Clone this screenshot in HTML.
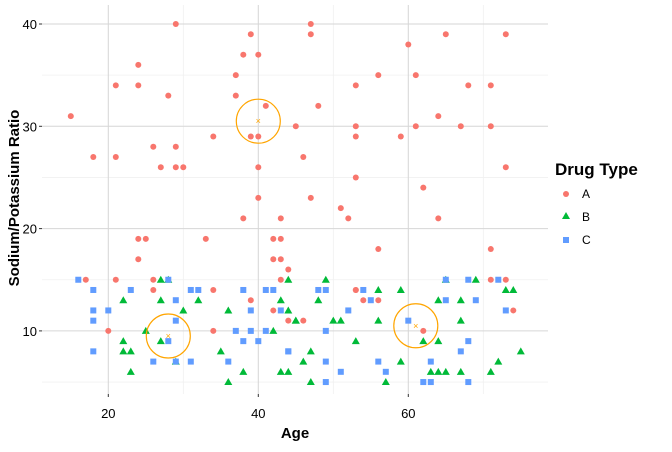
<!DOCTYPE html>
<html><head><meta charset="utf-8"><style>
body{margin:0;background:#fff;font-family:"Liberation Sans",Arial,sans-serif}
svg text{font-family:"Liberation Sans",Arial,sans-serif}
</style></head><body>
<svg id="chart" width="672" height="447" xmlns="http://www.w3.org/2000/svg">
<g id="grid"></g>
<g id="pts"></g>
<g id="cent"></g>
<g id="axes"></g>
<text x="295" y="438" font-size="15" font-weight="bold" text-anchor="middle">Age</text>
<text transform="translate(19,198) rotate(-90)" font-size="15" font-weight="bold" text-anchor="middle">Sodium/Potassium Ratio</text>
<g>
<text x="555" y="175" font-size="17" font-weight="bold">Drug Type</text>
<circle cx="566" cy="194" r="3" fill="#F8766D"/>
<text x="582" y="198" font-size="12">A</text>
<polygon points="566,212 570,219 562,219" fill="#00BA38"/>
<text x="582" y="221" font-size="12">B</text>
<rect x="563" y="237" width="6" height="6" fill="#619CFF"/>
<text x="582" y="244" font-size="12">C</text>
</g>
</svg>
<script>
const agesA=[29,39,38,40,24,37,21,24,28,37,15,41,45,34,39,40,26,29,18,21,27,29,30,40,40,38,43,24,25,33,42,43,
47,47,65,73,60,56,61,53,68,71,48,64,53,61,67,71,53,59,46,73,53,62,47,51,52,64,56,71,
24,42,43,44,17,21,26,43,26,34,39,42,44,20,34,46,53,71,73,53,54,56,74,62];
const ratiosA=[40,39,37,37,36,35,34,34,33,33,31,32,30,29,29,29,28,28,27,27,26,26,26,26,23,21,21,19,19,19,19,19,
40,39,39,39,38,35,35,34,34,34,32,31,30,30,30,30,29,29,27,26,25,24,23,22,21,21,18,18,
17,17,17,16,15,15,15,15,14,14,13,12,11,10,10,11,14,15,15,14,13,13,12,10];
const agesB=[27,28,44,22,27,32,43,30,36,44,45,25,42,22,27,35,22,23,29,23,38,43,44,36,
49,65,69,56,59,73,74,48,64,67,45,50,51,56,67,53,62,64,47,75,46,59,72,63,64,65,67,71,47,57];
const ratiosB=[15,15,15,13,13,13,13,12,12,12,11,10,10,9,9,8,8,8,7,6,6,6,6,5,
15,15,15,14,14,14,14,13,13,13,11,11,11,11,11,9,9,9,8,8,7,7,7,6,6,6,6,6,5,5];
const agesC=[16,28,18,23,31,32,38,41,42,29,18,20,39,43,18,29,37,39,41,28,38,40,18,44,26,31,36,29,
65,68,72,48,49,54,55,65,69,52,73,60,49,68,67,49,56,63,51,57,49,62,63,68,44];
const ratiosC=[15,15,14,14,14,14,14,14,14,13,12,12,12,12,11,11,10,10,10,9,9,9,8,8,7,7,7,7,
15,15,15,14,14,14,13,13,13,12,12,11,10,9,8,7,7,7,6,6,5,5,5,5,8];
const centAges=[28,40,61];
const centRatios=[9.5,30.5,10.5];
const xTicks=[20,40,60];
const yTicks=[10,20,30,40];
const X0=42,X1=548,Y0=5,Y1=394;
const x=a=>108.3+(a-20)*7.5;
const y=r=>24+(40-r)*10.23;
const NS="http://www.w3.org/2000/svg";
function mk(p,t,at){const e=document.createElementNS(NS,t);for(const k in at)e.setAttribute(k,at[k]);p.appendChild(e);return e;}
const grid=document.getElementById('grid'),pts=document.getElementById('pts'),cent=document.getElementById('cent'),axes=document.getElementById('axes');
[30,50,70].forEach(v=>{const l=mk(grid,'line',{x1:x(v),x2:x(v),y1:Y0,y2:Y1,stroke:'#f0f0f0','stroke-width':0.8});

});
[15,25,35,5].forEach(v=>{const l=mk(grid,'line',{x1:X0,x2:X1,y1:y(v),y2:y(v),stroke:'#f0f0f0','stroke-width':0.8});

});
xTicks.forEach(v=>{const l=mk(grid,'line',{x1:x(v),x2:x(v),y1:Y0,y2:Y1,stroke:'#d6d6d6','stroke-width':1});


const t=mk(axes,'line',{x1:x(v),x2:x(v),y1:Y1,y2:Y1+3,stroke:'#333'});


const tx=mk(axes,'text',{x:x(v),y:418,'font-size':13,'text-anchor':'middle',fill:'#000'});tx.textContent=v;

});
yTicks.forEach(v=>{const l=mk(grid,'line',{x1:X0,x2:X1,y1:y(v),y2:y(v),stroke:'#d6d6d6','stroke-width':1});


const t=mk(axes,'line',{x1:X0-3,x2:X0,y1:y(v),y2:y(v),stroke:'#333'});


const tx=mk(axes,'text',{x:X0-5,y:y(v)+5,'font-size':13,'text-anchor':'end',fill:'#000'});tx.textContent=v;

});
agesA.forEach((a,i)=>{const c=mk(pts,'circle',{cx:x(a),cy:y(ratiosA[i]),r:3,fill:'#F8766D'});

});
agesB.forEach((a,i)=>{const px=x(a),py=y(ratiosB[i]);const c=mk(pts,'polygon',{points:`${px},${py-4} ${px+4},${py+3} ${px-4},${py+3}`,fill:'#00BA38'});

});
agesC.forEach((a,i)=>{const c=mk(pts,'rect',{x:x(a)-3,y:y(ratiosC[i])-3,width:6,height:6,fill:'#619CFF'});

});
centAges.forEach((a,i)=>{const px=x(a),py=y(centRatios[i]);
const c=mk(cent,'circle',{cx:px,cy:py,r:22,fill:'none',stroke:'#FFA500','stroke-width':1.2});


const m=mk(cent,'text',{x:px,y:py+3,'font-size':9,'text-anchor':'middle',fill:'#FFA500'});m.textContent='×';

});
</script>
</body></html>
